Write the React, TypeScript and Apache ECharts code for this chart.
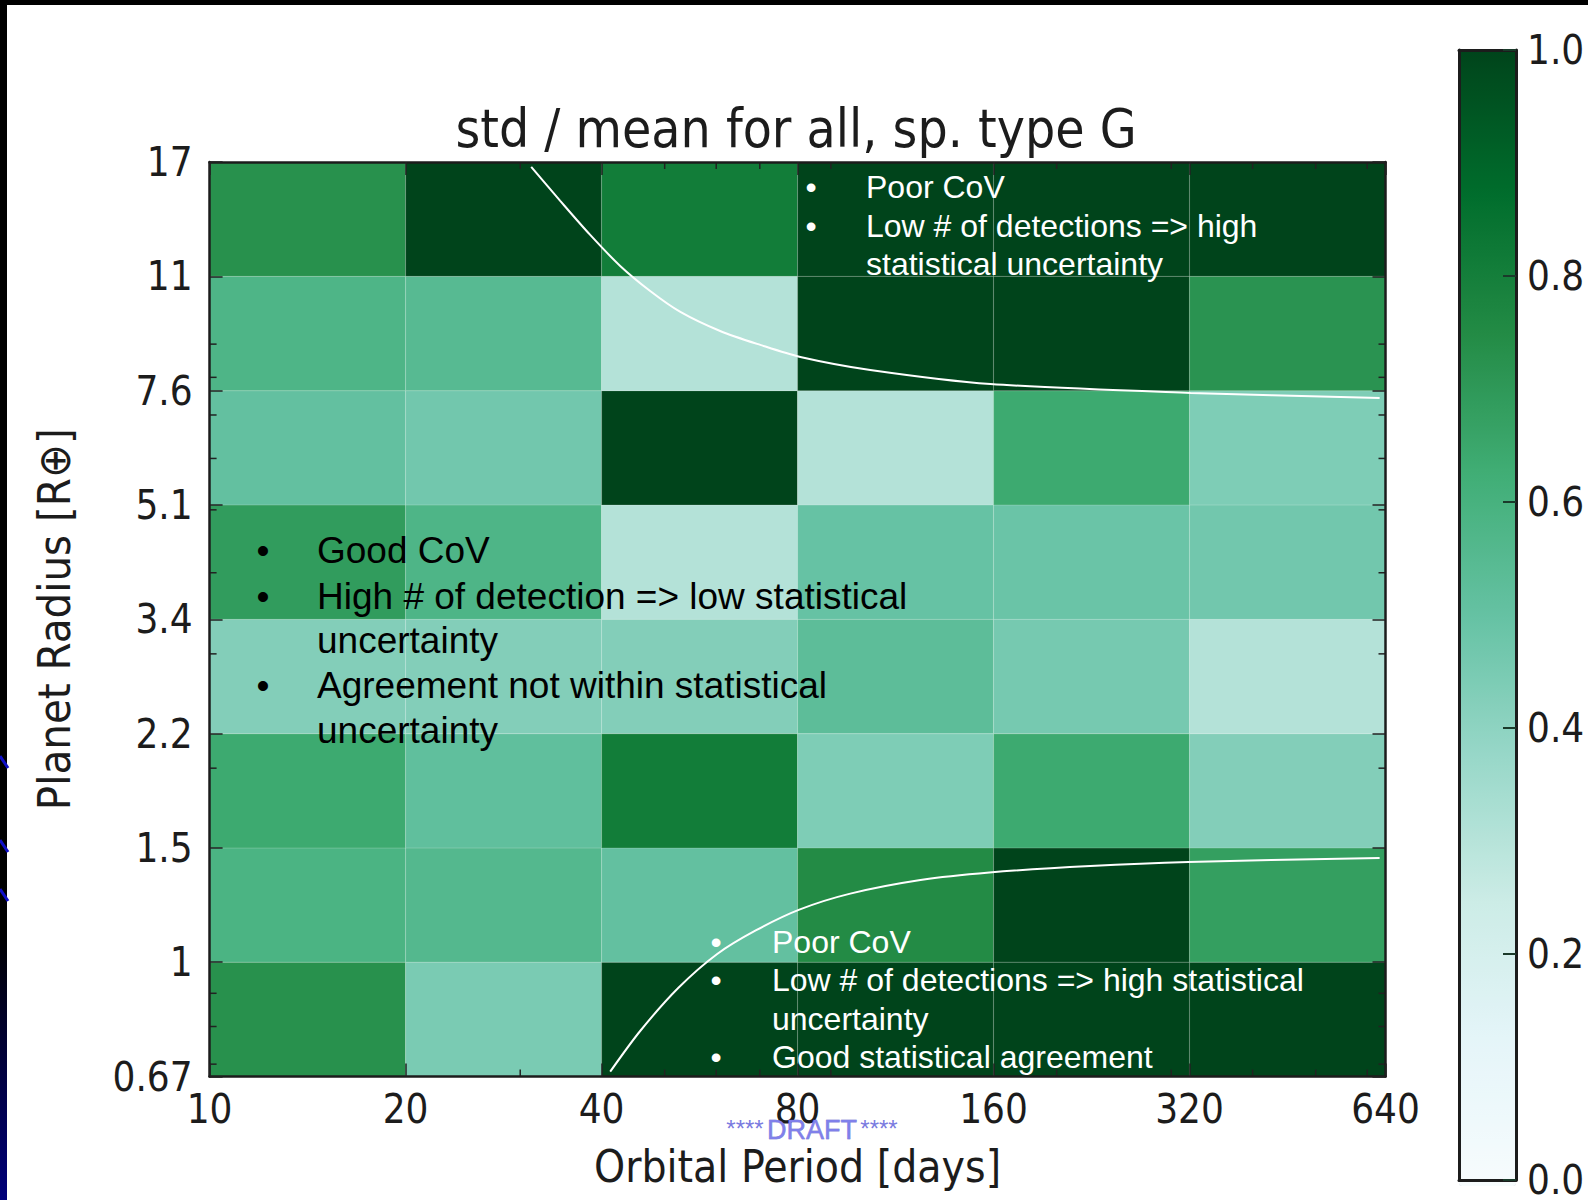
import React, { useEffect, useRef } from 'react';
import * as echarts from 'echarts';

// ---------- data ----------
const periodEdges = ['10', '20', '40', '80', '160', '320', '640'];
const radiusEdges = ['0.67', '1', '1.5', '2.2', '3.4', '5.1', '7.6', '11', '17'];
// std / mean per cell, rows from bottom (0.67-1 R_E) to top (11-17 R_E), columns 10-20 ... 320-640 days
const row0 = [0.73, 0.45, 1.0, 1.0, 1.0, 1.0];
const row1 = [0.59, 0.56, 0.51, 0.75, 1.0, 0.68];
const row2 = [0.64, 0.52, 0.81, 0.44, 0.64, 0.43];
const row3 = [0.43, 0.43, 0.43, 0.53, 0.46, 0.31];
const row4 = [0.69, 0.58, 0.31, 0.5, 0.49, 0.47];
const row5 = [0.51, 0.47, 1.0, 0.31, 0.64, 0.44];
const row6 = [0.58, 0.55, 0.31, 1.0, 1.0, 0.72];
const row7 = [0.73, 1.0, 0.81, 1.0, 1.0, 1.0];
const covRows = [row0, row1, row2, row3, row4, row5, row6, row7];
// hand-drawn boundary curves, in bin coordinates (column index, row index)
const upperCurve = [
  [1.641, 7.957], [1.789, 7.66], [1.942, 7.362], [2.095, 7.091], [2.248, 6.872], [2.402, 6.689],
  [2.605, 6.522], [2.81, 6.4], [3.014, 6.295], [3.371, 6.181], [3.984, 6.058], [5.005, 5.98], [5.97, 5.936],
];
const lowerCurve = [
  [2.044, 0.042], [2.197, 0.398], [2.391, 0.774], [2.59, 1.072], [2.789, 1.28], [3.009, 1.46],
  [3.269, 1.6], [3.627, 1.719], [3.979, 1.785], [4.494, 1.842], [4.995, 1.877], [5.97, 1.912],
];
const xMinorTicks = [30, 50, 60, 70, 90, 200, 300, 400, 500, 600];
const yMinorTicks = [0.7, 0.8, 0.9, 2, 3, 4, 5, 6, 7, 8, 9];
const BuGn = ['#f7fcfd', '#e5f5f9', '#ccece6', '#99d8c9', '#66c2a4', '#41ae76', '#238b45', '#006d2c', '#00441b'];

const topNote = ['Poor CoV', 'Low # of detections => high', 'statistical uncertainty'];
const topBullets = [true, true, false];
const midNote = ['Good CoV', 'High # of detection => low statistical', 'uncertainty', 'Agreement not within statistical', 'uncertainty'];
const midBullets = [true, true, false, true, false];
const lowNote = ['Poor CoV', 'Low # of detections => high statistical', 'uncertainty', 'Good statistical agreement'];
const lowBullets = [true, true, false, true];

// ---------- layout ----------
const W = 1588;
const H = 1200;
const PL = 209.6, PT = 162, PW = 1175.9, PH = 914.5;
const CBL = 1459, CBT = 50, CBW = 57, CBH = 1136;
const FONT_MPL = "'DejaVu Sans Condensed', 'DejaVu Sans', sans-serif";
const FONT_PPT = "'Liberation Sans', Arial, sans-serif";
const INK = '#1c1c1c';

const binX = (p: number) => Math.log2(p / 10);
const binY = (r: number) => Math.log(r / 0.67) / Math.log(1.5);

function noteBlock(lines: string[], bullets: boolean[], bx: number, tx: number, ys: number[], size: number, color: string) {
  const out: any[] = [];
  lines.forEach((t, i) => {
    if (bullets[i]) {
      out.push({
        type: 'text', x: bx, y: ys[i], z: 50,
        style: { text: '•', fill: color, fontSize: size, fontFamily: FONT_PPT, align: 'center', verticalAlign: 'middle', textAlign: 'center', textVerticalAlign: 'middle' },
      });
    }
    out.push({
      type: 'text', x: tx, y: ys[i], z: 50,
      style: { text: t, fill: color, fontSize: size, fontFamily: FONT_PPT, align: 'left', verticalAlign: 'middle', textAlign: 'left', textVerticalAlign: 'middle' },
    });
  });
  return out;
}

export default function App() {
  const ref = useRef<HTMLDivElement>(null);
  useEffect(() => {
    if (!ref.current) return;
    const chart = echarts.init(ref.current, undefined, { renderer: 'svg', width: W, height: H });
    const cellData: number[][] = [];
    covRows.forEach((row, j) => row.forEach((v, i) => cellData.push([i, j, v])));
    const tickLine = { color: '#222', width: 1.5 };
    const frameLine = { color: INK, width: 2.5 };
    const cbLine = { color: INK, width: 3 };
    const axisCommon = { z: 10, splitLine: { show: false }, type: 'value' as const };

    const option: any = {
      animation: false,
      backgroundColor: '#ffffff',
      title: {
        text: 'std / mean for all, sp. type G',
        left: 796, top: 102, textAlign: 'center', padding: 0,
        textStyle: { fontFamily: FONT_MPL, fontSize: 53, fontWeight: 'normal', color: INK, lineHeight: 53 },
      },
      grid: [
        { left: PL, top: PT, width: PW, height: PH, containLabel: false },
        { left: CBL, top: CBT, width: CBW, height: CBH, containLabel: false },
      ],
      xAxis: [
        {
          ...axisCommon, gridIndex: 0, min: 0, max: 6, interval: 1, position: 'bottom',
          axisLine: { show: true, onZero: false, lineStyle: frameLine },
          axisTick: { show: true, inside: true, length: 13, lineStyle: tickLine },
          axisLabel: { formatter: (v: number) => periodEdges[Math.round(v)], fontFamily: FONT_MPL, fontSize: 40, color: INK, margin: 12 },
          name: 'Orbital Period [days]', nameLocation: 'middle', nameGap: 68,
          nameTextStyle: { fontFamily: FONT_MPL, fontSize: 44, color: INK },
        },
        {
          ...axisCommon, gridIndex: 0, min: 0, max: 6, interval: 1, position: 'top',
          axisLine: { show: true, onZero: false, lineStyle: frameLine },
          axisTick: { show: true, inside: true, length: 13, lineStyle: tickLine },
          axisLabel: { show: false },
        },
        {
          ...axisCommon, gridIndex: 1, min: 0, max: 1, position: 'bottom',
          axisLine: { show: true, onZero: false, lineStyle: cbLine },
          axisTick: { show: false }, axisLabel: { show: false },
        },
        {
          ...axisCommon, gridIndex: 1, min: 0, max: 1, position: 'top',
          axisLine: { show: true, onZero: false, lineStyle: cbLine },
          axisTick: { show: false }, axisLabel: { show: false },
        },
      ],
      yAxis: [
        {
          ...axisCommon, gridIndex: 0, min: 0, max: 8, interval: 1, position: 'left',
          axisLine: { show: true, onZero: false, lineStyle: frameLine },
          axisTick: { show: true, inside: true, length: 13, lineStyle: tickLine },
          axisLabel: { formatter: (v: number) => radiusEdges[Math.round(v)], fontFamily: FONT_MPL, fontSize: 40, color: INK, margin: 17 },
          name: 'Planet Radius [R\u2295]', nameLocation: 'middle', nameGap: 133,
          nameTextStyle: { fontFamily: FONT_MPL, fontSize: 45, color: INK },
        },
        {
          ...axisCommon, gridIndex: 0, min: 0, max: 8, interval: 1, position: 'right',
          axisLine: { show: true, onZero: false, lineStyle: frameLine },
          axisTick: { show: true, inside: true, length: 13, lineStyle: tickLine },
          axisLabel: { show: false },
        },
        {
          ...axisCommon, gridIndex: 1, min: 0, max: 1, interval: 0.2, position: 'right',
          axisLine: { show: true, onZero: false, lineStyle: cbLine },
          axisTick: { show: true, inside: true, length: 13, lineStyle: { color: '#1a3a2a', width: 2 } },
          axisLabel: { formatter: (v: number) => v.toFixed(1), fontFamily: FONT_MPL, fontSize: 40, color: INK, margin: 11 },
        },
        {
          ...axisCommon, gridIndex: 1, min: 0, max: 1, position: 'left',
          axisLine: { show: true, onZero: false, lineStyle: cbLine },
          axisTick: { show: false }, axisLabel: { show: false },
        },
      ],
      visualMap: {
        type: 'continuous', min: 0, max: 1, seriesIndex: 0, dimension: 2,
        inRange: { color: BuGn }, calculable: false, orient: 'vertical',
        left: CBL, top: CBT, itemWidth: CBW, itemHeight: CBH, padding: 0, text: null,
      },
      series: [
        {
          type: 'custom', xAxisIndex: 0, yAxisIndex: 0, z: 2,
          encode: { x: 0, y: 1 },
          data: cellData,
          renderItem: (params: any, api: any) => {
            const i = api.value(0), j = api.value(1);
            const a = api.coord([i, j]);
            const b = api.coord([i + 1, j + 1]);
            return {
              type: 'rect',
              shape: { x: a[0], y: b[1], width: b[0] - a[0], height: a[1] - b[1] },
              style: { fill: api.visual('color'), stroke: 'rgba(255,255,255,0.12)', lineWidth: 1.2 },
            };
          },
        },
        {
          type: 'line', xAxisIndex: 0, yAxisIndex: 0, z: 4, smooth: 0.3, symbol: 'none',
          data: upperCurve, lineStyle: { color: '#ffffff', width: 2 },
        },
        {
          type: 'line', xAxisIndex: 0, yAxisIndex: 0, z: 4, smooth: 0.3, symbol: 'none',
          data: lowerCurve, lineStyle: { color: '#ffffff', width: 2 },
        },
        {
          type: 'custom', xAxisIndex: 0, yAxisIndex: 0, z: 6, encode: { x: 0, y: 1 },
          data: xMinorTicks.map((p) => [binX(p), 0]),
          renderItem: (params: any, api: any) => {
            const b = api.coord([api.value(0), 0]);
            const t = api.coord([api.value(0), 8]);
            const st = { stroke: '#222', lineWidth: 1.5 };
            return {
              type: 'group', children: [
                { type: 'line', shape: { x1: b[0], y1: b[1], x2: b[0], y2: b[1] - 7 }, style: st },
                { type: 'line', shape: { x1: t[0], y1: t[1], x2: t[0], y2: t[1] + 7 }, style: st },
              ],
            };
          },
        },
        {
          type: 'custom', xAxisIndex: 0, yAxisIndex: 0, z: 6, encode: { x: 0, y: 1 },
          data: yMinorTicks.map((r) => [0, binY(r)]),
          renderItem: (params: any, api: any) => {
            const l = api.coord([0, api.value(1)]);
            const r = api.coord([6, api.value(1)]);
            const st = { stroke: '#222', lineWidth: 1.5 };
            return {
              type: 'group', children: [
                { type: 'line', shape: { x1: l[0], y1: l[1], x2: l[0] + 7, y2: l[1] }, style: st },
                { type: 'line', shape: { x1: r[0], y1: r[1], x2: r[0] - 7, y2: r[1] }, style: st },
              ],
            };
          },
        },
      ],
      graphic: [
        { type: 'rect', shape: { x: 0, y: 0, width: W, height: 5 }, style: { fill: '#000' }, z: 100 },
        {
          type: 'rect', shape: { x: 0, y: 0, width: 7, height: H }, z: 100,
          style: {
            fill: new echarts.graphic.LinearGradient(0, 0, 0, 1, [
              { offset: 0, color: '#000000' }, { offset: 0.78, color: '#000000' }, { offset: 1, color: '#00007a' },
            ]),
          },
        },
        { type: 'line', shape: { x1: 0, y1: 756, x2: 8, y2: 768 }, style: { stroke: '#1010c8', lineWidth: 3 }, z: 101 },
        { type: 'line', shape: { x1: 0, y1: 840, x2: 8, y2: 852 }, style: { stroke: '#1010c8', lineWidth: 3 }, z: 101 },
        { type: 'line', shape: { x1: 0, y1: 889, x2: 8, y2: 901 }, style: { stroke: '#1010c8', lineWidth: 3 }, z: 101 },
        ...noteBlock(topNote, topBullets, 811, 866, [187, 226, 264], 32, '#ffffff'),
        ...noteBlock(midNote, midBullets, 263, 317, [550, 596, 640, 685, 730], 37, '#000000'),
        ...noteBlock(lowNote, lowBullets, 716, 772, [942, 980, 1019, 1057], 32, '#ffffff'),
        {
          type: 'text', x: 812, y: 1130, z: 60,
          style: {
            text: '{s|****} {d|DRAFT} {s|****}', align: 'center', verticalAlign: 'middle', textAlign: 'center', textVerticalAlign: 'middle',
            fontFamily: FONT_PPT,
            rich: {
              s: { fontSize: 24, fill: '#7a7ae0', color: '#7a7ae0', fontFamily: FONT_PPT, verticalAlign: 'top' },
              d: { fontSize: 27, fill: '#8080ea', color: '#8080ea', stroke: '#3c3cc0', lineWidth: 0.4, fontFamily: FONT_PPT },
            },
          },
        },
      ],
    };
    chart.setOption(option);
    return () => chart.dispose();
  }, []);
  return <div ref={ref} style={{ position: 'fixed', left: 0, top: 0, width: W, height: H, background: '#fff' }} />;
}
